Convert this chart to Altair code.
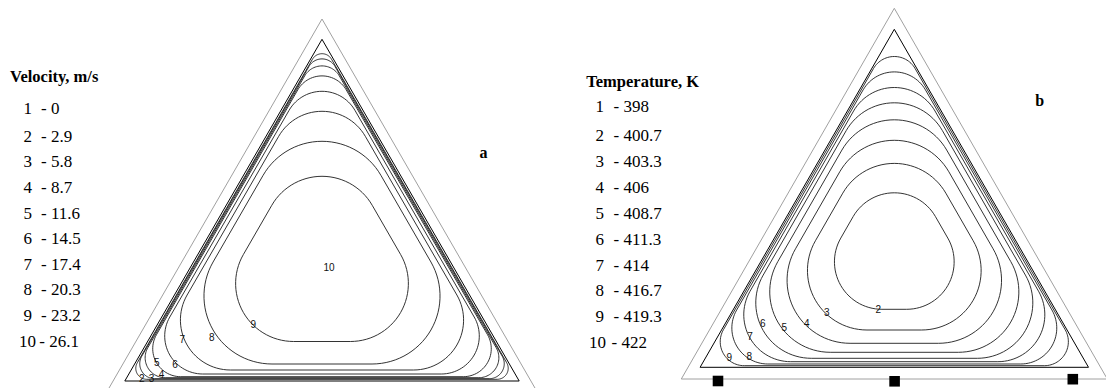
import math
import numpy as np
import pandas as pd
import altair as alt

# ---------------- data ----------------
# legend texts
legend_numbers = ["1", "2", "3", "4", "5", "6", "7", "8", "9", "10"]
velocity_values = ["0", "2.9", "5.8", "8.7", "11.6", "14.5", "17.4", "20.3", "23.2", "26.1"]
temperature_values = ["398", "400.7", "403.3", "406", "408.7", "411.3", "414", "416.7", "419.3", "422"]

# panel a (velocity): contour number, distance of contour from the walls, corner radius (px units)
vel_contour_ids = [2, 3, 4, 5, 6, 7, 8, 9]
vel_wall_offset = [1.7, 2.3, 3.3, 4.3, 7.0, 11.0, 17.0, 39.5]
vel_corner_radius = [11, 15, 20, 28, 38, 50, 68, 58]

# panel b (temperature)
temp_contour_ids = [9, 8, 7, 6, 5, 4, 3, 2]
temp_wall_offset = [1.6, 3.3, 5.6, 9.0, 15.0, 24.0, 37.3, 58.0]
temp_corner_radius = [24, 36, 47, 55.5, 60.5, 63, 59.5, 47.5]

# contour label texts and where they sit (x from triangle axis, height above base)
vel_label_text = ["10", "9", "8", "7", "6", "5", "4", "3", "2"]
vel_label_x = [7, -68.7, -110.3, -139.7, -147, -165.3, -160.5, -170.5, -180.3]
vel_label_h = [112.7, 56, 42.7, 41, 16, 17.7, 6.5, 2, 2]

temp_label_text = ["2", "3", "4", "5", "6", "7", "8", "9"]
temp_label_x = [-16, -67.6, -87.6, -110, -131.6, -144.3, -145, -165]
temp_label_h = [57.3, 54.6, 43.3, 39.3, 43.3, 30.6, 10.6, 9]

# heater squares under panel b
square_x = [-176.3, 0.3, 178.5]
square_h = [-13.7, -14.0, -11.9]

# triangle sizes (height, half base) of wall triangle and outer frame
A_H, A_W = 341.7, 197.2
B_H, B_W = 338.0, 194.2
A_OUT_TOP, B_OUT_TOP, OUT_BASE = 362.0, 359.0, -11.7

SERIF = "Liberation Serif, Times New Roman, Times, serif"
SANS = "Liberation Sans, Arial, Helvetica, sans-serif"

# ---------------- geometry helpers ----------------
def rounded_triangle(H, W, d, R, step=4):
    cy = H / 3.0
    rho = H / 3.0
    k = (rho - d - R) / rho
    verts = [(0.0, H), (-W, 0.0), (W, 0.0)]
    arcs = [(30, 150), (150, 270), (270, 390)]
    pts = []
    for (vx, vy), (a0, a1) in zip(verts, arcs):
        ix, iy = vx * k, cy + (vy - cy) * k
        for a in np.arange(a0, a1 + 0.01, step):
            t = math.radians(a)
            pts.append((ix + R * math.cos(t), iy + R * math.sin(t)))
    pts.append(pts[0])
    return pts


def contour_frame(H, W, ids, offs, rads):
    rows = []
    for cid, d, r in zip(ids, offs, rads):
        for i, (x, y) in enumerate(rounded_triangle(H, W, d, r)):
            rows.append({"cid": cid, "ord": i, "x": x, "y": y})
    return pd.DataFrame(rows)


def tri_frame(top, base, half):
    pts = [(0, top), (-half, base), (half, base), (0, top)]
    return pd.DataFrame([{"ord": i, "x": x, "y": y} for i, (x, y) in enumerate(pts)])


def panel(H, W, out_top, ids, offs, rads, lab_t, lab_x, lab_h, values,
          cx, cy, left, width, title, title_px, title_py, letter, letter_px, letter_py,
          num_px1, num_px10, dash_px1, dash_px10, rows_py, squares=False):
    xs = alt.Scale(domain=[left - cx, left + width - cx], nice=False, zero=False)
    ys = alt.Scale(domain=[cy - 388, cy], nice=False, zero=False)
    X = alt.X("x:Q", scale=xs, axis=None)
    Y = alt.Y("y:Q", scale=ys, axis=None)

    cont = alt.Chart(contour_frame(H, W, ids, offs, rads)).mark_line(
        color="#1c1c1c", strokeWidth=0.9, clip=True).encode(
        x=X, y=Y, detail="cid:N", order="ord:Q")
    wall = alt.Chart(tri_frame(H, 0, W)).mark_line(
        color="#000000", strokeWidth=1, clip=True).encode(x=X, y=Y, order="ord:Q")
    half_out = (out_top - OUT_BASE) * W / H
    outer = alt.Chart(tri_frame(out_top, OUT_BASE, half_out)).mark_line(
        color="#a0a0a0", strokeWidth=1, clip=True).encode(x=X, y=Y, order="ord:Q")

    labs = pd.DataFrame({"t": lab_t, "x": lab_x, "y": lab_h})
    clab = alt.Chart(labs).mark_text(font=SANS, fontSize=10, color="#111",
                                     align="center", baseline="middle").encode(x=X, y=Y, text="t:N")

    legend_rows = []
    for i, (n, v) in enumerate(zip(legend_numbers, values)):
        npx = num_px10 if len(n) > 1 else num_px1
        dpx = dash_px10 if len(n) > 1 else dash_px1
        legend_rows.append({"n": n, "v": "- " + v, "xn": npx - cx, "xv": dpx - cx,
                            "y": cy - rows_py[i]})
    leg = pd.DataFrame(legend_rows)
    leg_n = alt.Chart(leg).mark_text(font=SERIF, fontSize=17, color="#000",
                                     align="left", baseline="middle").encode(
        x=alt.X("xn:Q", scale=xs, axis=None), y=Y, text="n:N")
    leg_v = alt.Chart(leg).mark_text(font=SERIF, fontSize=17, color="#000",
                                     align="left", baseline="middle").encode(
        x=alt.X("xv:Q", scale=xs, axis=None), y=Y, text="v:N")
    head_t = alt.Chart(pd.DataFrame({"t": [title], "x": [title_px - cx], "y": [cy - title_py]})).mark_text(
        font=SERIF, fontSize=16.5, fontWeight="bold", color="#000",
        align="left", baseline="middle").encode(x=X, y=Y, text="t:N")
    head_l = alt.Chart(pd.DataFrame({"t": [letter], "x": [letter_px - cx], "y": [cy - letter_py]})).mark_text(
        font=SERIF, fontSize=16, fontWeight="bold", color="#000",
        align="center", baseline="middle").encode(x=X, y=Y, text="t:N")
    layers = [outer, cont, wall, clab, leg_n, leg_v, head_t, head_l]
    if squares:
        sq = pd.DataFrame({"x": square_x, "y": square_h})
        layers.append(alt.Chart(sq).mark_square(size=112, color="#000", opacity=1).encode(x=X, y=Y))
    return alt.layer(*layers).properties(width=width, height=388)


rows_a = [109.3] + [136.7 + 25.6 * i for i in range(9)]
rows_b = [106.7] + [136.0 + 25.9 * i for i in range(9)]

pa = panel(A_H, A_W, A_OUT_TOP, vel_contour_ids, vel_wall_offset, vel_corner_radius,
           vel_label_text, vel_label_x, vel_label_h, velocity_values,
           cx=322, cy=381, left=0, width=560, title="Velocity, m/s", title_px=10, title_py=76.7,
           letter="a", letter_px=483.5, letter_py=153.3,
           num_px1=23.5, num_px10=19.0, dash_px1=41.0, dash_px10=39.3, rows_py=rows_a)

pb = panel(B_H, B_W, B_OUT_TOP, temp_contour_ids, temp_wall_offset, temp_corner_radius,
           temp_label_text, temp_label_x, temp_label_h, temperature_values,
           cx=894.3, cy=367.3, left=560, width=546, title="Temperature, K", title_px=586.3, title_py=82.3,
           letter="b", letter_px=1039.6, letter_py=100.7,
           num_px1=595.5, num_px10=589.0, dash_px1=613.6, dash_px10=611.6, rows_py=rows_b,
           squares=True)

chart = alt.hconcat(pa, pb, spacing=0, padding=0, bounds="flush").configure_view(stroke=None)
chart.save("out.html", embed_options={"renderer": "svg", "actions": False})
